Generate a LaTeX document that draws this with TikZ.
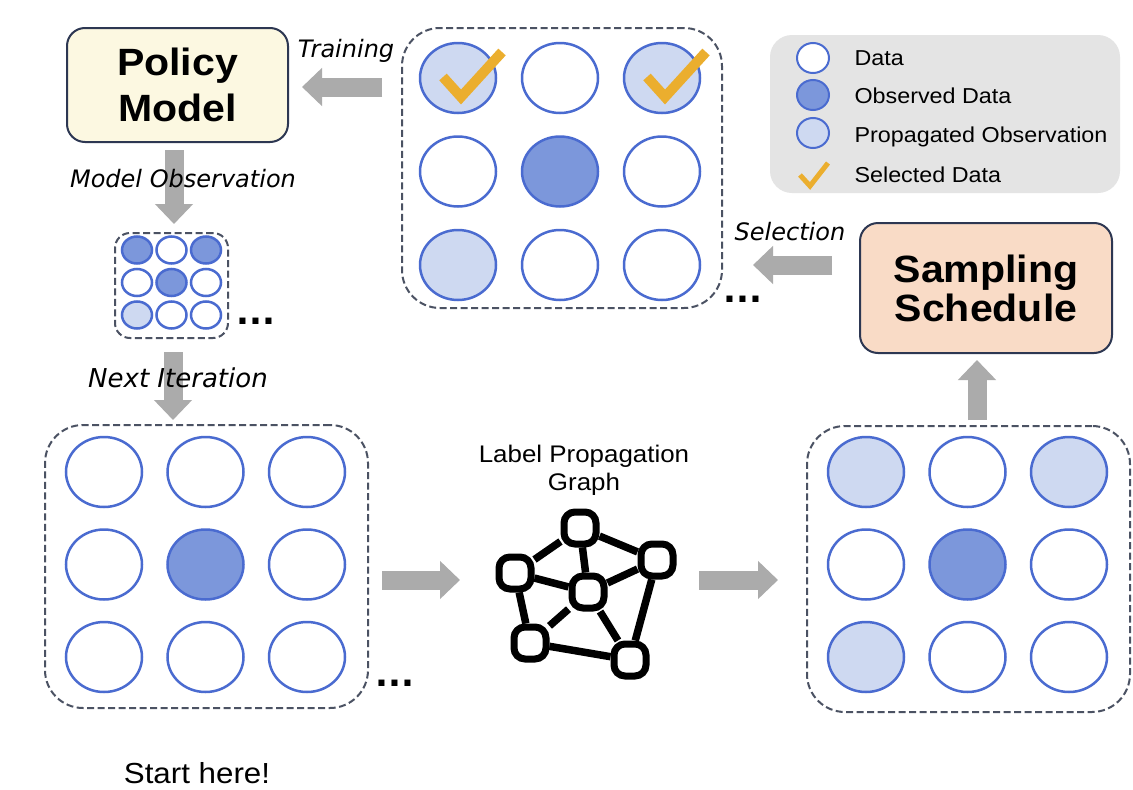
\documentclass[tikz,border=0pt]{standalone}
\usepackage{fontspec}
\setmainfont{Liberation Sans}[FakeStretch=1.08]
\newfontfamily\handfont{DejaVu Sans}
\newfontfamily\dotfont{DejaVu Sans}
\usetikzlibrary{shapes.geometric,arrows.meta}
\definecolor{cblue}{HTML}{4A6BD0}
\definecolor{cobs}{HTML}{7C97DB}
\definecolor{cprop}{HTML}{CED9F1}
\definecolor{ccheck}{HTML}{EBAE2E}
\definecolor{cgray}{HTML}{ABABAB}
\definecolor{cdash}{HTML}{4B5263}
\definecolor{cborder}{HTML}{2D3752}
\definecolor{cyel}{HTML}{FCF8E1}
\definecolor{cpeach}{HTML}{F9DBC6}
\definecolor{clegend}{HTML}{E4E4E4}
\tikzset{
  dat/.style={ellipse, draw=cblue, line width=2.5pt, fill=white, minimum width=76pt, minimum height=70pt, inner sep=0pt},
  smalldat/.style={dat, minimum width=30pt, minimum height=27pt},
  legdat/.style={dat, minimum width=32pt, minimum height=30pt, line width=2pt},
  dashbox/.style={draw=cdash, line width=2pt, dash pattern=on 7pt off 3.5pt, rounded corners=#1, inner sep=0pt},
  bigarrow/.style={draw=cgray, line width=19pt, -{Triangle[length=20pt,width=37pt]}},
  checkmark/.style={draw=ccheck, line width=#1, line join=miter},
  titlebox/.style={draw=cborder, line width=2pt, rounded corners=18pt, align=center, inner sep=0pt},
  hand/.style={font=\handfont\itshape\fontsize{#1}{#1}\selectfont},
  legtext/.style={anchor=base west, font=\fontsize{21.6}{24}\selectfont},
  dots/.style={anchor=base, font=\dotfont\bfseries\fontsize{34}{34}\selectfont},
  gnode/.style={draw=black, line width=7pt, rounded corners=11pt, minimum size=32pt, fill=white, inner sep=0pt},
  gedge/.style={draw=black, line width=7.5pt}
}
\begin{document}
\begin{tikzpicture}[x=1pt,y=-1pt]
\useasboundingbox (0,0) rectangle (1133,790);
\fill[white] (0,0) rectangle (1133,790);

% ---------- Policy Model ----------
\node[titlebox, fill=cyel, minimum width=221pt, minimum height=114pt,
      font=\bfseries\fontsize{38}{46}\selectfont] (policy) at (177.5,85) {Policy\\Model};

% ---------- Top grid ----------
\node[dashbox=38pt, minimum width=320pt, minimum height=280pt] (topbox) at (562,168) {};
\foreach \f [count=\i from 0] in {cprop,white,cprop,white,cobs,white,cprop,white,white}
  \node[dat, fill=\f] (T\i) at ({458+102*mod(\i,3)},{78+93.5*floor(\i/3)}) {};
\draw[checkmark=10pt] (443,77) -- (461,97) -- (502,52);
\draw[checkmark=10pt] (647,77) -- (665,97) -- (706,52);
\node[dots] (dotsT) at (743,302) {...};

% ---------- Legend ----------
\node[fill=clegend, rounded corners=22pt, minimum width=350pt, minimum height=158pt] (legend) at (945,114) {};
\node[legdat] (L1) at (813,58) {};
\node[legdat, fill=cobs] (L2) at (813,95) {};
\node[legdat, fill=cprop] (L3) at (813,133) {};
\draw[checkmark=5pt] (800,175) -- (810,186) -- (828,163);
\node[legtext] (LT1) at (851,65) {Data};
\node[legtext] (LT2) at (851,103) {Observed Data};
\node[legtext] (LT3) at (851,142) {Propagated Observation};
\node[legtext] (LT4) at (851,182) {Selected Data};

% ---------- Training arrow ----------
\coordinate (trS) at (382,87);
\coordinate (trE) at (302,87);
\draw[bigarrow] (trS) -- (trE);
\node[hand=24, anchor=base] (trL) at (346,57) {Training};

% ---------- Model observation ----------
\coordinate (moS) at (174,150);
\coordinate (moE) at (174,224);
\draw[bigarrow] (moS) -- (moE);
\node[hand=24, anchor=base] (moL) at (183,187) {Model Observation};

% ---------- Small grid ----------
\node[dashbox=15pt, minimum width=113pt, minimum height=105pt] (smallbox) at (171.5,285.5) {};
\foreach \f [count=\i from 0] in {cobs,white,cobs,white,cobs,white,cprop,white,white}
  \node[smalldat, fill=\f] (S\i) at ({137+34.5*mod(\i,3)},{250+32.5*floor(\i/3)}) {};
\node[dots] (dotsS) at (256,324) {...};

% ---------- Next iteration ----------
\coordinate (niS) at (173,352);
\coordinate (niE) at (173,420);
\draw[bigarrow] (niS) -- (niE);
\node[hand=26, anchor=base] (niL) at (178,387) {Next Iteration};

% ---------- Bottom-left grid ----------
\node[dashbox=38pt, minimum width=323pt, minimum height=283pt] (blbox) at (206.5,566.5) {};
\foreach \f [count=\i from 0] in {white,white,white,white,cobs,white,white,white,white}
  \node[dat, fill=\f] (B\i) at ({104+101.5*mod(\i,3)},{472+92.5*floor(\i/3)}) {};
\node[dots] (dotsB) at (395,686) {...};

% ---------- Arrows around graph ----------
\coordinate (a1S) at (382,580);
\coordinate (a1E) at (460,580);
\draw[bigarrow] (a1S) -- (a1E);
\coordinate (a2S) at (699,580);
\coordinate (a2E) at (778,580);
\draw[bigarrow] (a2S) -- (a2E);

% ---------- Label propagation graph ----------
\node[align=center, font=\fontsize{24}{28}\selectfont, anchor=base] (glabel) at (584,490) {Label Propagation\\Graph};
\node[gnode] (g1) at (580,528) {};
\node[gnode] (g2) at (515,573) {};
\node[gnode] (g3) at (588,592) {};
\node[gnode] (g4) at (657,560) {};
\node[gnode] (g5) at (530,643) {};
\node[gnode] (g6) at (630,660) {};
\draw[gedge] (g1) -- (g2);
\draw[gedge] (g1) -- (g3);
\draw[gedge] (g1) -- (g4);
\draw[gedge] (g2) -- (g3);
\draw[gedge] (g4) -- (g3);
\draw[gedge] (g2) -- (g5);
\draw[gedge] (g3) -- (g5);
\draw[gedge] (g3) -- (g6);
\draw[gedge] (g4) -- (g6);
\draw[gedge] (g5) -- (g6);

% ---------- Bottom-right grid ----------
\node[dashbox=38pt, minimum width=323pt, minimum height=286pt] (brbox) at (968.5,569) {};
\foreach \f [count=\i from 0] in {cprop,white,cprop,white,cobs,white,cprop,white,white}
  \node[dat, fill=\f] (R\i) at ({866+101.5*mod(\i,3)},{472+92.5*floor(\i/3)}) {};

% ---------- Up arrow ----------
\coordinate (upS) at (977,420);
\coordinate (upE) at (977,360);
\draw[bigarrow] (upS) -- (upE);

% ---------- Sampling schedule ----------
\node[titlebox, fill=cpeach, minimum width=252pt, minimum height=130pt,
      font=\bfseries\fontsize{38}{39}\selectfont] (sched) at (986,288) {Sampling\\Schedule};

% ---------- Selection arrow ----------
\coordinate (seS) at (832,265);
\coordinate (seE) at (753,265);
\draw[bigarrow] (seS) -- (seE);
\node[hand=24, anchor=base] (seL) at (790,240) {Selection};

% ---------- Start here ----------
\node[font=\fontsize{29}{32}\selectfont, anchor=base] (start) at (197,783) {Start here!};
\end{tikzpicture}
\end{document}
